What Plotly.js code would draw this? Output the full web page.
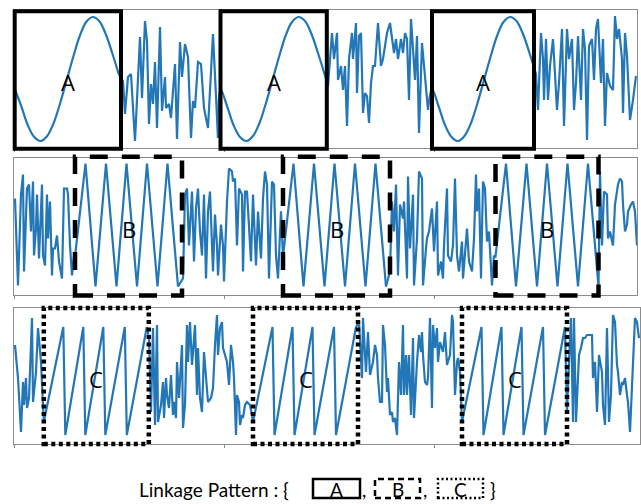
<!DOCTYPE html>
<html><head><meta charset="utf-8">
<script src="https://cdn.plot.ly/plotly-3.0.1.min.js"></script>
<style>html,body{margin:0;padding:0;background:#fff}#chart{width:641px;height:504px}</style>
</head><body><div id="chart"></div>
<script>
// ---- repeated pattern shapes: relative time, value ----
const sineT = [0,6.5,13,19.5,26,32.5,39,45.5,52,58.5,65,71.5,78,84.5,91,97.5,104];
const sineV = [-10,-27,-46,-58,-62,-57,-44,-24,-1,22,43,57,62,58,45,26,5];
const triT = [0,10.5,20.5,31,41.5,51.5,62,72,82.5,92.5,103];
const triV = [-30,63,-60,63,-60,63,-60,63,-60,63,-60];
const sawT = [0,19.5,21.5,39.5,41.5,59.5,61.5,81,83,103];
const sawV = [-46,49,-59,49,-59,49,-59,49,-59,49];
// pattern occurrence start times
const startsA = [0.7,206.5,418];
const startsB = [61,269,481.5];
const startsC = [29.8,239,448];
const labels = ['A','B','C'];

// ---- background (non-pattern) segments: [time, value] ----
const noise1a = [[109,-2],[111,-35],[114,2],[117,5],[121,-62],[126,42],[128,-19],[131,58],[133,38],[135,-45],[137,-5],[139,-25],[141,17],[143,-49],[146,52],[148,-32],[151,2],[152,-29],[155,-25],[157,-39],[161,15],[163,-60],[166,37],[168,2],[171,35],[174,22],[177,-59],[179,-22],[181,-29],[184,17],[187,15],[190,-29],[194,-49],[199,45],[201,5],[204,-59]];
const noise1b = [[314,-7],[318,46],[320,20],[323,46],[324,-1],[327,13],[329,-11],[331,13],[333,-47],[335,20],[338,46],[339,20],[342,56],[343,-14],[345,43],[347,46],[349,-34],[351,-14],[353,-17],[355,-44],[357,-4],[359,13],[361,13],[364,56],[367,13],[369,20],[373,46],[376,56],[378,43],[380,26],[382,40],[384,20],[387,40],[389,26],[391,46],[393,40],[395,-21],[397,60],[399,30],[401,-1],[403,43],[405,-54],[408,36],[411,3],[414,-31]];
const noise1c = [[524,-31],[527,46],[529,20],[530,-21],[532,40],[534,-21],[536,13],[539,40],[541,6],[543,-31],[545,-4],[548,50],[550,-47],[553,50],[555,20],[558,40],[560,-31],[562,-4],[564,43],[567,-21],[569,50],[571,30],[573,-61],[575,33],[578,40],[580,-1],[582,50],[584,60],[587,-4],[589,40],[591,-47],[593,6],[596,-7],[599,-11],[601,63],[603,40],[605,50],[608,20],[609,-34],[611,46],[613,23],[616,-41],[619,-21],[622,3]];

const noise2a = [[1,28],[4,-59],[7,32],[9,52],[10,-45],[12,15],[13,38],[15,42],[17,-5],[19,45],[20,-29],[22,-2],[23,32],[25,-32],[28,42],[29,-29],[31,-39],[33,32],[34,-12],[36,25],[38,-49],[39,-22],[41,-22],[43,-9],[45,-35],[48,-52],[50,38],[53,38],[54,32],[56,-19],[58,-49],[60,-29]];
const noise2b = [[169,-52],[171,32],[173,38],[175,-19],[178,35],[180,-35],[182,18],[184,38],[186,-5],[188,-29],[190,32],[192,-52],[194,15],[196,35],[199,-45],[201,12],[203,-19],[204,-49],[207,2],[209,-19],[210,-55],[213,25],[215,58],[218,55],[219,45],[221,48],[223,-19],[225,38],[228,32],[229,-45],[231,35],[233,35],[235,-5],[237,-35],[239,32],[242,-39],[244,15],[247,-32],[249,28],[251,55],[253,42],[255,-52],[258,45],[260,42],[262,-29],[264,-52],[267,15]];
const noise2c = [[376,-45],[378,25],[380,-5],[382,42],[384,-49],[386,22],[389,8],[390,25],[393,-52],[394,50],[396,-22],[399,32],[400,-59],[403,-12],[405,55],[408,48],[409,-59],[412,-22],[413,-12],[415,-5],[418,18],[420,-25],[423,25],[424,-49],[427,-35],[429,-52],[430,-19],[433,38],[434,-29],[437,-35],[439,-19],[441,48],[443,-29],[445,-45],[448,-15],[449,-52],[451,-25],[453,-2],[455,-35],[458,-45],[460,-12],[462,52],[463,15],[465,38],[467,-52],[469,45],[471,38],[473,-15],[475,-5],[478,-59],[480,-29]];
const noise2d = [[586,55],[588,-19],[590,35],[593,32],[594,-12],[596,-5],[599,-19],[601,22],[603,38],[604,42],[606,48],[608,45],[609,22],[611,-5],[613,2],[614,15],[617,22],[619,25],[621,15],[623,-19]];

const noise3a = [[1,31],[4,-2],[7,-56],[9,-6],[10,-29],[12,-2],[13,-32],[15,-22],[18,58],[19,-26],[22,4],[24,48],[27,14]];
const noise3b = [[135,38],[137,-36],[139,48],[141,-49],[143,51],[144,-46],[147,-29],[149,-6],[150,-42],[152,-2],[153,-19],[155,-32],[157,1],[159,-39],[160,-26],[162,-42],[163,14],[165,-22],[168,31],[169,-52],[171,-29],[173,51],[174,14],[176,54],[178,11],[179,24],[181,51],[183,-19],[184,28],[186,-22],[188,-36],[190,24],[193,-22],[194,-26],[197,-22],[199,-12],[201,31],[203,61],[204,21],[206,48],[208,54],[209,28],[211,21],[213,14],[215,-9],[217,31],[219,14],[220,-2],[222,-59],[223,-19],[225,-26],[226,-49],[228,-39],[229,-42],[231,-29],[233,-26],[236,-29],[238,-39]];
const noise3c = [[345,54],[348,-2],[349,58],[352,4],[354,44],[356,1],[359,14],[361,31],[363,21],[364,-2],[366,-26],[368,-26],[369,51],[371,31],[373,-16],[374,-2],[376,-39],[378,-36],[379,-46],[381,-42],[383,-59],[385,14],[387,-19],[389,51],[390,-19],[392,21],[393,-19],[395,21],[397,-39],[399,38],[400,-42],[403,14],[405,41],[407,24],[408,44],[409,21],[411,-6],[413,-9],[414,-2],[416,58],[418,-32],[419,51],[421,28],[423,48],[424,14],[426,34],[429,24],[431,44],[433,11],[436,21],[438,61],[439,54],[441,-19],[443,14],[444,18],[446,4]];
const noise3d = [[553,-36],[555,14],[557,58],[559,-46],[560,58],[562,-46],[563,-19],[565,21],[567,28],[569,38],[571,38],[573,41],[575,41],[578,41],[579,-2],[581,14],[583,-36],[585,21],[588,4],[589,-29],[591,-49],[593,48],[595,-46],[597,-19],[599,61],[601,54],[603,11],[604,4],[606,-19],[608,-6],[609,-9],[611,-2],[613,-19],[614,-26],[616,-56],[619,14],[621,58],[623,54],[625,38]];

// ---- build traces ----
const W = 641, H = 504;
const LINE = '#2377b6';
const traces = [];
function pat(T, V, s, shape) { return {x: T.map(t => t + s), y: V.slice(), shape: shape}; }
function nz(arr) { return {x: arr.map(p => p[0]), y: arr.map(p => p[1]), shape: 'linear'}; }
function addPanel(segs, xa, ya) {
  let prev = null;
  segs.forEach(s => {
    const xs = s.x.slice(), ys = s.y.slice();
    if (prev) { xs.unshift(prev[0]); ys.unshift(prev[1]); }
    traces.push({x: xs, y: ys, xaxis: xa, yaxis: ya, type: 'scatter', mode: 'lines',
      line: {color: LINE, width: 2.2, shape: s.shape, smoothing: 1}, hoverinfo: 'skip', showlegend: false});
    prev = [s.x[s.x.length - 1], s.y[s.y.length - 1]];
  });
}
addPanel([pat(sineT, sineV, startsA[0], 'spline'), nz(noise1a), pat(sineT, sineV, startsA[1], 'spline'), nz(noise1b),
          pat(sineT, sineV, startsA[2], 'spline'), nz(noise1c)], 'x', 'y');
addPanel([nz(noise2a), pat(triT, triV, startsB[0], 'linear'), nz(noise2b), pat(triT, triV, startsB[1], 'linear'), nz(noise2c),
          pat(triT, triV, startsB[2], 'linear'), nz(noise2d)], 'x2', 'y2');
addPanel([nz(noise3a), pat(sawT, sawV, startsC[0], 'linear'), nz(noise3b), pat(sawT, sawV, startsC[1], 'linear'), nz(noise3c),
          pat(sawT, sawV, startsC[2], 'linear'), nz(noise3d)], 'x3', 'y3');

// ---- panel geometry (pixels) ----
const panels = [
  {top: 10, bottom: 148, left: 14, right: 637, xmax: 623},
  {top: 158, bottom: 295, left: 14, right: 637, xmax: 623},
  {top: 308, bottom: 444, left: 14, right: 640, xmax: 626}
];
const FRAME = '#8c8c8c';
function xax(p, anchor) {
  return {domain: [p.left / W, p.right / W], range: [0, p.xmax], anchor: anchor, showgrid: false, zeroline: false,
    showline: true, mirror: true, linecolor: FRAME, linewidth: 1, ticks: 'outside', ticklen: 3, tickcolor: FRAME,
    tickwidth: 1, tickvals: [0, 210, 420], showticklabels: false, fixedrange: true};
}
function yax(p, anchor) {
  const half = (p.bottom - p.top) / 2;
  return {domain: [1 - p.bottom / H, 1 - p.top / H], range: [-half, half], anchor: anchor, showgrid: false,
    zeroline: false, showline: true, mirror: true, linecolor: FRAME, linewidth: 1, ticks: '',
    showticklabels: false, fixedrange: true};
}

// ---- pattern boxes ----
const shapes = [], annotations = [];
const boxStyle = [
  {w: 106.3, top: 11.3, bottom: 148.7, dash: 'solid', width: 4},
  {w: 107, top: 156.7, bottom: 295.5, dash: '18px,14px', width: 4.5},
  {w: 105, top: 308, bottom: 444, dash: '4px,3.5px', width: 4.5}
];
const starts = [startsA, startsB, startsC];
starts.forEach((arr, k) => {
  const b = boxStyle[k];
  arr.forEach((s, i) => {
    let w = b.w;
    if (k === 1 && i === 2) w = 103;
    if (k === 0 && i === 2) w = 102;
    const x0 = 14 + s, x1 = 14 + s + w;
    shapes.push({type: 'rect', xref: 'paper', yref: 'paper', x0: x0 / W, x1: x1 / W,
      y0: 1 - b.bottom / H, y1: 1 - b.top / H, line: {color: '#000', width: b.width, dash: b.dash}, fillcolor: 'rgba(0,0,0,0)'});
    const cy = (panels[k].top + panels[k].bottom) / 2 + 3;
    annotations.push({xref: 'paper', yref: 'paper', x: (x0 + x1) / 2 / W, y: 1 - cy / H, text: labels[k],
      showarrow: false, xanchor: 'center', yanchor: 'middle', font: {family: 'Open Sans, sans-serif', size: 22, color: '#000'}});
  });
});

// ---- bottom key: Linkage Pattern : { [A], [B], [C] } ----
const keyY = 489;
const keyFont = {family: 'Lato, sans-serif', size: 19, color: '#000'};
annotations.push({xref: 'paper', yref: 'paper', x: 137 / W, y: 1 - keyY / H, xanchor: 'left', yanchor: 'middle',
  text: 'Linkage Pattern : {', showarrow: false, font: keyFont});
const keyBoxes = [
  {x0: 313, x1: 360, dash: 'solid'},
  {x0: 375, x1: 420, dash: '6px,4px'},
  {x0: 438, x1: 483, dash: '2px,2.5px'}
];
keyBoxes.forEach((kb, i) => {
  shapes.push({type: 'rect', xref: 'paper', yref: 'paper', x0: kb.x0 / W, x1: kb.x1 / W, y0: 1 - 498 / H, y1: 1 - 479 / H,
    line: {color: '#000', width: 2.5, dash: kb.dash}, fillcolor: 'rgba(0,0,0,0)'});
  annotations.push({xref: 'paper', yref: 'paper', x: (kb.x0 + kb.x1) / 2 / W, y: 1 - keyY / H, xanchor: 'center',
    yanchor: 'middle', text: labels[i], showarrow: false, font: keyFont});
});
[[364, ','], [425, ','], [493, '}']].forEach(c => {
  annotations.push({xref: 'paper', yref: 'paper', x: c[0] / W, y: 1 - keyY / H, xanchor: 'center', yanchor: 'middle',
    text: c[1], showarrow: false, font: keyFont});
});

const layout = {
  width: W, height: H, margin: {l: 0, r: 0, t: 0, b: 0}, paper_bgcolor: '#fff', plot_bgcolor: '#fff',
  showlegend: false,
  xaxis: xax(panels[0], 'y'), yaxis: yax(panels[0], 'x'),
  xaxis2: xax(panels[1], 'y2'), yaxis2: yax(panels[1], 'x2'),
  xaxis3: xax(panels[2], 'y3'), yaxis3: yax(panels[2], 'x3'),
  shapes: shapes, annotations: annotations
};
Plotly.newPlot('chart', traces, layout, {staticPlot: true, displayModeBar: false});
</script></body></html>
